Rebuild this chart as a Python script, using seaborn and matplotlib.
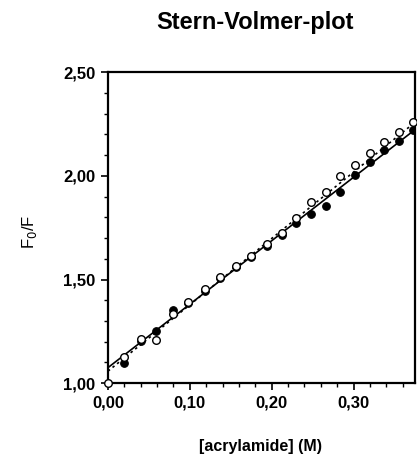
import numpy as np
import matplotlib
matplotlib.use("Agg")
import matplotlib.pyplot as plt
import pandas as pd
import seaborn as sns
from matplotlib.ticker import FuncFormatter, MultipleLocator

# acrylamide concentration (M)
conc = [0.000, 0.019, 0.040, 0.059, 0.079, 0.098, 0.118, 0.137, 0.156,
        0.175, 0.194, 0.212, 0.230, 0.248, 0.266, 0.284, 0.302, 0.320,
        0.337, 0.356, 0.373]
# F0/F, open circles
f_open = [1.00, 1.127, 1.212, 1.210, 1.333, 1.390, 1.452, 1.513, 1.567,
          1.613, 1.669, 1.722, 1.797, 1.873, 1.923, 1.999, 2.050, 2.108,
          2.164, 2.212, 2.260]
# F0/F, filled circles
f_filled = [1.00, 1.098, 1.205, 1.251, 1.355, 1.385, 1.445, 1.505, 1.560,
            1.608, 1.662, 1.716, 1.773, 1.818, 1.855, 1.923, 2.006, 2.067,
            2.127, 2.167, 2.220]
# linear fits: intercept, slope (Ksv)
fit_filled = [1.075, 3.06]
fit_open = [1.058, 3.20]

sns.set_theme(style="ticks")
plt.rcParams["font.family"] = ["Liberation Sans", "DejaVu Sans"]
plt.rcParams["text.color"] = "black"
plt.rcParams["xtick.color"] = "black"
plt.rcParams["ytick.color"] = "black"
plt.rcParams["axes.edgecolor"] = "black"

df = pd.DataFrame({"conc": conc, "open": f_open, "filled": f_filled})
xfit = np.linspace(0, 0.375, 50)
fit_df = pd.DataFrame({
    "conc": xfit,
    "solid": fit_filled[0] + fit_filled[1] * xfit,
    "dotted": fit_open[0] + fit_open[1] * xfit,
})

fig = plt.figure(figsize=(4.17, 4.54), dpi=100)
ax = fig.add_axes([0.259, 0.156, 0.736, 0.685])

sns.lineplot(data=fit_df, x="conc", y="solid", color="black", lw=1.2, ax=ax)
sns.lineplot(data=fit_df, x="conc", y="dotted", color="black", lw=1.2,
             linestyle=(0, (1.5, 2)), ax=ax)
sns.scatterplot(data=df[df["conc"] > 0], x="conc", y="filled", color="black",
                edgecolor="black", s=30, linewidth=0.8, zorder=3, ax=ax)
sns.scatterplot(data=df, x="conc", y="open", color="white", edgecolor="black",
                s=30, linewidth=1.0, zorder=4, clip_on=False, ax=ax)

ax.set_xlim(0, 0.375)
ax.set_ylim(1.0, 2.5)
ax.xaxis.set_major_locator(MultipleLocator(0.1))
ax.xaxis.set_minor_locator(MultipleLocator(0.02))
ax.yaxis.set_major_locator(MultipleLocator(0.5))
ax.yaxis.set_minor_locator(MultipleLocator(0.1))
comma = FuncFormatter(lambda v, p: f"{v:.2f}".replace(".", ","))
ax.xaxis.set_major_formatter(comma)
ax.yaxis.set_major_formatter(comma)
ax.tick_params(which="major", length=5, width=1.2, labelsize=12, pad=4)
ax.tick_params(which="minor", length=3, width=1.0)
for lab in ax.get_xticklabels() + ax.get_yticklabels():
    lab.set_fontweight("bold")
for side in ["left", "bottom", "right", "top"]:
    ax.spines[side].set_linewidth(1.6)
    ax.spines[side].set_visible(True)

ax.set_xlabel("")
ax.set_ylabel("")
fig.text(0.625, 0.017, "[acrylamide] (M)", ha="center", va="center",
         fontsize=11.5, fontweight="bold")
fig.text(0.07, 0.489, "F$_0$/F", rotation=90, ha="center", va="center",
         fontsize=12)
fig.text(0.612, 0.95, "Stern-Volmer-plot", ha="center", va="center",
         fontsize=17, fontweight="bold")

fig.savefig("out.png", dpi=100)
